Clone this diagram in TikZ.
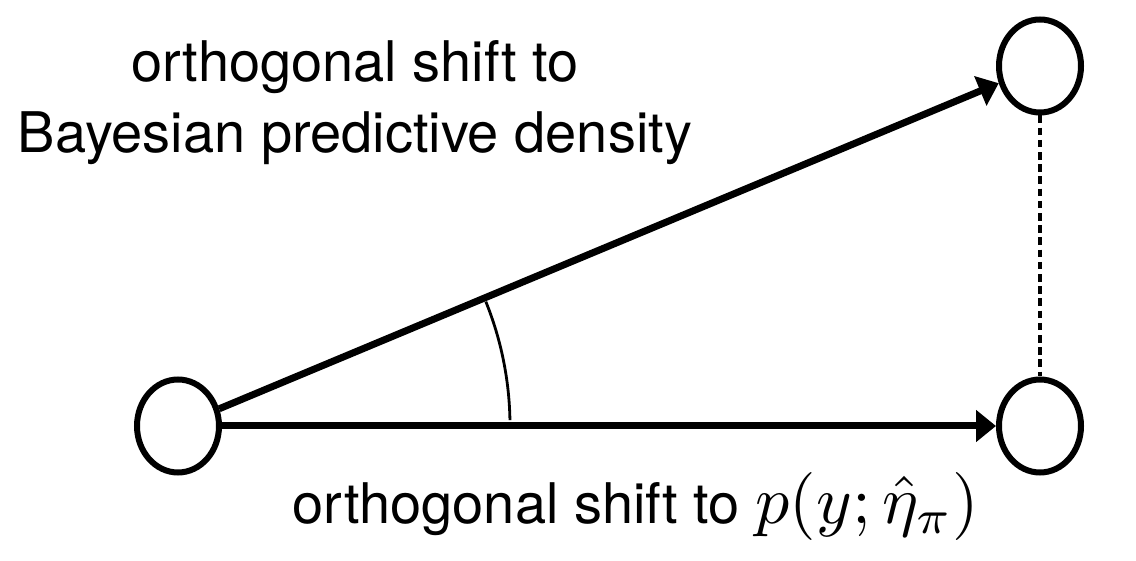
\documentclass[tikz,border=0pt]{standalone}
\usepackage{amsmath}
\usepackage{graphicx}
\usepackage{fontspec}
\setsansfont{TeX Gyre Heros}
\usetikzlibrary{shapes.geometric, arrows.meta}
\tikzstyle{density} = [ellipse, draw=black, line width=6pt, minimum width=82pt, minimum height=93pt, inner sep=0pt]
\tikzstyle{arrow} = [line width=7pt, -{Triangle[length=20pt,width=31pt]}]
\tikzstyle{angleArc} = [line width=2.8pt]
\tikzstyle{link} = [line width=4.5pt, dash pattern=on 7.5pt off 4.7pt]
\tikzstyle{caption} = [font=\sffamily\fontsize{56}{71}\selectfont, inner sep=0pt]

\begin{document}
\begin{tikzpicture}[x=1pt, y=1pt]
\useasboundingbox (0,0) rectangle (1136,560);
\node (origin) [density] at (178,134) {};
\node (bayes) [density] at (1040,494) {};
\node (plugin) [density] at (1040,134) {};
\draw [arrow] (origin) -- (bayes);
\draw [arrow] (origin) -- (plugin);
\draw [link] (bayes) -- (plugin);
\draw [angleArc] ([shift={(1:332)}]origin.center) arc [start angle=1, end angle=22, radius=332];
\node (toplabel) [caption, align=center, anchor=base] at (355,407) {orthogonal shift to\\Bayesian predictive density};
\node (bottomlabel) [caption, anchor=base] at (636,37) {orthogonal shift to \scalebox{6.8}{\normalsize$p(y;\hat{\eta}_\pi)$}};
\end{tikzpicture}
\end{document}
